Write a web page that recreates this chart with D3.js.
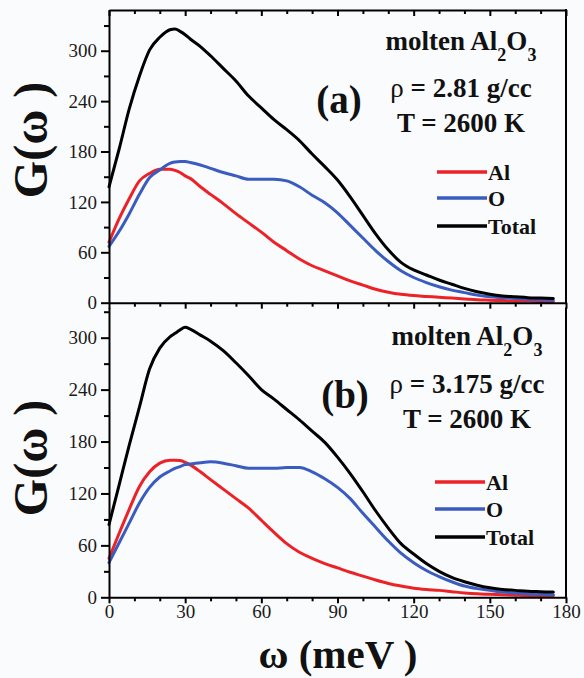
<!DOCTYPE html>
<html>
<head>
<meta charset="utf-8">
<script src="https://cdn.jsdelivr.net/npm/d3@7"></script>
<style>
  html, body { margin: 0; padding: 0; background: #fafbfd; }
  svg { display: block; }
  svg text { font-family: "Liberation Serif", "Times New Roman", serif; }
</style>
</head>
<body>
<svg id="chart" width="584" height="678"></svg>
<script>
// Phonon frequency grid, meV
const omega = [0, 4, 8, 12, 16, 20, 24, 26, 28, 30, 32, 36, 40, 45, 50, 55, 60, 65, 70, 75,
  80, 85, 90, 95, 100, 105, 110, 115, 120, 125, 130, 135, 140, 145, 150, 155, 160, 165, 170, 175];

// (a) rho = 2.81 g/cc
const alA = [72, 100, 124, 145, 154, 159, 159, 157.5, 155, 151, 148, 138, 129, 118, 106, 95, 84, 72, 62, 52,
  44, 38, 32, 26, 21, 16, 12.5, 10, 8.5, 7.5, 6.5, 5.5, 4.5, 3.5, 3, 2.5, 2, 2, 1.5, 1.5];
const oA = [67, 85, 106, 129, 149, 158, 166, 167.5, 168, 168, 167, 164, 160, 155, 151, 147, 147, 147, 145, 138,
  128, 119, 107, 92, 77, 62, 49, 38, 30, 24, 19, 15, 12, 9, 7, 6, 5, 4, 3.5, 3];
const totalA = [138, 183, 231, 270, 301, 316, 325, 326, 323, 319, 314, 305, 294, 279, 264, 246, 232, 218, 206, 193,
  177, 162, 146, 126, 104, 82, 63, 48, 39, 33, 27, 22, 17, 13, 10, 8, 7, 6, 5.5, 5];

// (b) rho = 3.175 g/cc
const alB = [45, 74, 102, 128, 145, 155, 158.5, 158.5, 158, 156, 153, 145, 136, 125, 114, 103, 89, 75, 62, 52,
  45, 39, 34, 29, 24.5, 20, 16, 13, 10.5, 9, 8, 6.5, 5, 4, 3.5, 3, 2.5, 2, 2, 2];
const oB = [40, 63, 86, 109, 127, 139, 146, 149, 151, 153.5, 154, 155.5, 156.5, 155, 152, 149, 149, 149, 150, 150,
  145, 137, 127, 114, 97, 81, 65, 51, 40, 31, 24, 18, 13, 10, 8, 6, 5, 4, 3.5, 3];
const totalB = [84, 130, 176, 220, 264, 288, 301, 305, 309, 312, 310, 303, 296, 285, 271, 256, 240, 229, 217, 205,
  192, 179, 162, 143, 122, 100, 80, 62, 50, 39, 30, 23, 18, 14, 11, 9, 8, 7, 6.5, 6];

const seriesNames = ["Al", "O", "Total"];
const seriesColors = ["#ec2227", "#3a5cbf", "#000000"];
const yMajorTicks = [0, 60, 120, 180, 240, 300];
const xMajorTicks = [0, 30, 60, 90, 120, 150, 180];
const panelLabels = ["(a)", "(b)"];
const densities = ["2.81", "3.175"];
const temperature = "2600";

const svg = d3.select("#chart");
svg.append("rect").attr("width", 584).attr("height", 678).attr("fill", "#fafbfd");

const x = d3.scaleLinear().domain([0, 180]).range([109, 566]);
const xMinor = d3.range(0, 181, 10).filter(v => v % 30 !== 0);

const panels = [
  { data: [alA, oA, totalA], y: d3.scaleLinear().domain([0, 348.5]).range([302.7, 10]),
    frameTop: true, xLabels: false, label: panelLabels[0], rho: densities[0],
    textX: 461, labelX: 339, base: [50, 97, 132, 113], legendX: 437, legendY: [172, 198, 226], titleY: 140 },
  { data: [alB, oB, totalB], y: d3.scaleLinear().domain([0, 335]).range([597.3, 307.4]),
    frameTop: false, xLabels: true, label: panelLabels[1], rho: densities[1],
    textX: 467, labelX: 345, base: [345, 393, 428, 408], legendX: 435, legendY: [482, 509, 537], titleY: 458 }
];

function styleAxis(g) {
  g.selectAll("path.domain").attr("stroke", "#000").attr("stroke-width", 2);
  g.selectAll(".tick line").attr("stroke", "#000").attr("stroke-width", 2);
  g.selectAll("text").attr("font-family", null).attr("font-size", 19).attr("fill", "#1a1a1a");
}

panels.forEach(p => {
  const y = p.y;
  const g = svg.append("g");
  const [y0, y1] = y.range();

  // curves: Al, O, Total
  const line = d3.line()
    .x((d, i) => x(omega[i]))
    .y(d => y(d))
    .curve(d3.curveMonotoneX);
  p.data.forEach((s, k) => {
    g.append("path").datum(s)
      .attr("d", line)
      .attr("fill", "none")
      .attr("stroke", seriesColors[k])
      .attr("stroke-width", 3)
      .attr("stroke-linejoin", "round")
      .attr("stroke-linecap", "round");
  });

  // left axis
  const yMinor = d3.range(30, y.domain()[1], 60);
  g.append("g").attr("transform", `translate(${x(0)},0)`)
    .call(d3.axisLeft(y).tickValues(yMajorTicks).tickSize(8).tickSizeOuter(0).tickPadding(4))
    .call(styleAxis);
  g.append("g").attr("transform", `translate(${x(0)},0)`)
    .call(d3.axisLeft(y).tickValues(yMinor).tickSize(5).tickSizeOuter(0).tickFormat(""))
    .call(a => a.select("path.domain").remove())
    .call(styleAxis);

  // bottom axis
  const xb = g.append("g").attr("transform", `translate(0,${y(0)})`)
    .call(d3.axisBottom(x).tickValues(xMajorTicks).tickSize(6).tickSizeOuter(0)
      .tickFormat(p.xLabels ? d3.format("d") : ""))
    .call(styleAxis);
  xb.selectAll("text").attr("y", 7).attr("dy", "0.71em");
  g.append("g").attr("transform", `translate(0,${y(0)})`)
    .call(d3.axisBottom(x).tickValues(xMinor).tickSize(4).tickSizeOuter(0).tickFormat(""))
    .call(a => a.select("path.domain").remove())
    .call(styleAxis);

  // top frame with inward ticks
  if (p.frameTop) {
    g.append("g").attr("transform", `translate(0,${y1})`)
      .call(d3.axisBottom(x).tickValues(xMajorTicks).tickSize(6).tickSizeOuter(0).tickFormat(""))
      .call(styleAxis);
    g.append("g").attr("transform", `translate(0,${y1})`)
      .call(d3.axisBottom(x).tickValues(xMinor).tickSize(4).tickSizeOuter(0).tickFormat(""))
      .call(a => a.select("path.domain").remove())
      .call(styleAxis);
  }
  // right frame
  g.append("line")
    .attr("x1", x(180)).attr("x2", x(180))
    .attr("y1", y1 - (p.frameTop ? 1 : 0)).attr("y2", y0 + 1)
    .attr("stroke", "#000").attr("stroke-width", 2);

  // annotations
  const t1 = g.append("text").attr("x", p.textX).attr("y", p.base[0])
    .attr("text-anchor", "middle")
    .attr("font-weight", "bold").attr("font-size", 27).attr("fill", "#111");
  t1.append("tspan").text("molten Al");
  t1.append("tspan").attr("font-size", 18).attr("dy", 11).text("2");
  t1.append("tspan").attr("dy", -11).text("O");
  t1.append("tspan").attr("font-size", 18).attr("dy", 11).text("3");

  const t2 = g.append("text").attr("x", p.textX).attr("y", p.base[1])
    .attr("text-anchor", "middle")
    .attr("font-weight", "bold").attr("font-size", 27).attr("fill", "#111");
  t2.append("tspan").attr("font-weight", "normal").text("ρ");
  t2.append("tspan").text(` = ${p.rho} g/cc`);

  g.append("text").attr("x", p.textX).attr("y", p.base[2])
    .attr("text-anchor", "middle")
    .attr("font-weight", "bold").attr("font-size", 27).attr("fill", "#111")
    .text(`T = ${temperature} K`);

  g.append("text").attr("x", p.labelX).attr("y", p.base[3])
    .attr("text-anchor", "middle")
    .attr("font-weight", "bold").attr("font-size", 39).attr("fill", "#111")
    .text(p.label);

  // legend
  seriesNames.forEach((name, k) => {
    const ly = p.legendY[k];
    g.append("line")
      .attr("x1", p.legendX).attr("x2", p.legendX + 50)
      .attr("y1", ly).attr("y2", ly)
      .attr("stroke", seriesColors[k]).attr("stroke-width", 3.5);
    g.append("text")
      .attr("x", p.legendX + 51).attr("y", ly + 7.5)
      .attr("font-weight", "bold")
      .attr("font-size", 22).attr("fill", "#111")
      .text(name);
  });

  // y title
  g.append("text")
    .attr("transform", `translate(47,${p.titleY}) rotate(-90)`)
    .attr("text-anchor", "middle")
    .attr("font-weight", "bold").attr("font-size", 48).attr("fill", "#111")
    .text("G(ω )");
});

// x title
svg.append("text")
  .attr("x", 338).attr("y", 668)
  .attr("text-anchor", "middle")
  .attr("font-weight", "bold").attr("font-size", 41).attr("fill", "#111")
  .text("ω (meV )");
</script>
</body>
</html>
